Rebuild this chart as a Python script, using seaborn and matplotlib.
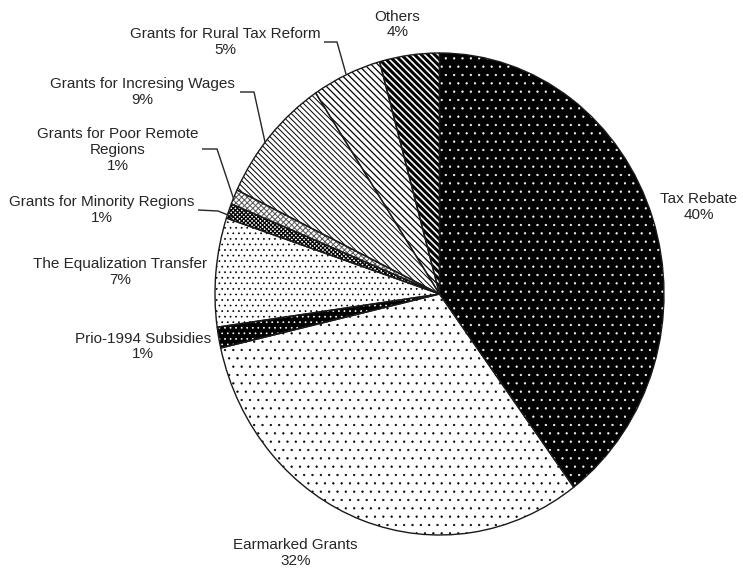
import matplotlib
matplotlib.use("Agg")
import matplotlib.pyplot as plt
import seaborn as sns

# ---- data ----
categories = ["Tax Rebate", "Earmarked Grants", "Prio-1994 Subsidies",
              "The Equalization Transfer", "Grants for Minority Regions",
              "Grants for Poor Remote\nRegions", "Grants for Incresing Wages",
              "Grants for Rural Tax Reform", "Others"]
shares = [39.8, 31.6, 1.4, 7.3, 1.0, 1.0, 8.6, 5.0, 4.3]
pct_labels = [f"{round(v)}%" for v in shares]

# ---- style ----
sns.set_theme(style="white")
plt.rcParams["font.family"] = ["Liberation Sans", "DejaVu Sans"]

W, H = 743, 569
fig = plt.figure(figsize=(W / 100, H / 100), dpi=100)
ax = fig.add_axes([0, 0, 1, 1])

CX, CY, RX, RY = 439.5, 294.0, 224.5, 241.0


def px(x, y):
    return ((x - CX) / RX, (CY - y) / RY)


BS = "\\"
# face, hatch, hatch colour, hatch linewidth
styles = [
    ("black", "..", "white", 0.4),
    ("white", "..", "black", 0.4),
    ("black", "...", "white", 0.5),
    ("white", "...", "black", 0.5),
    ("white", "x" * 8, "black", 0.9),
    ("white", "x" * 6, "#555555", 0.7),
    ("white", BS * 6, "black", 0.7),
    ("white", BS * 5, "black", 0.9),
    ("white", BS * 5, "black", 2.2),
]

wedges, _ = ax.pie(shares, startangle=90, counterclock=False, radius=1,
                   wedgeprops=dict(linewidth=0))
for w, (fc, h, hc, hlw) in zip(wedges, styles):
    w.set_facecolor(fc)
    w.set_edgecolor(hc)
    w.set_linewidth(0)
    w.set_hatch(h)
    if hasattr(w, "set_hatch_linewidth"):
        w.set_hatch_linewidth(hlw)

ax.pie(shares, startangle=90, counterclock=False, radius=1,
       wedgeprops=dict(fill=False, edgecolor="#1a1a1a", linewidth=1.0))

ax.set_aspect("auto")
ax.set_xlim(-CX / RX, (W - CX) / RX)
ax.set_ylim((CY - H) / RY, CY / RY)
ax.axis("off")

# ---- labels (layout) ----
label_px = [(699, 207), (295.5, 553), (143, 346.5), (120, 272), (102, 210),
            (118, 150), (142, 92), (225, 42), (397.5, 24.5)]
for cat, pct, (lx, ly) in zip(categories, pct_labels, label_px):
    x, y = px(lx, ly)
    ax.text(x, y, f"{cat}\n{pct}", ha="center", va="center", fontsize=11,
            color="#262626", linespacing=1.15)

leaders = [
    [(324, 42), (337, 42), (346, 74)],
    [(240, 92), (254, 92), (265, 142)],
    [(202, 149), (217, 149), (234, 200)],
    [(198, 210), (218, 211), (233, 217)],
]
for pts in leaders:
    xs, ys = zip(*[px(a, b) for a, b in pts])
    ax.plot(xs, ys, color="#262626", lw=1.0, solid_capstyle="butt")

fig.savefig("out.png", dpi=100, facecolor="white")
